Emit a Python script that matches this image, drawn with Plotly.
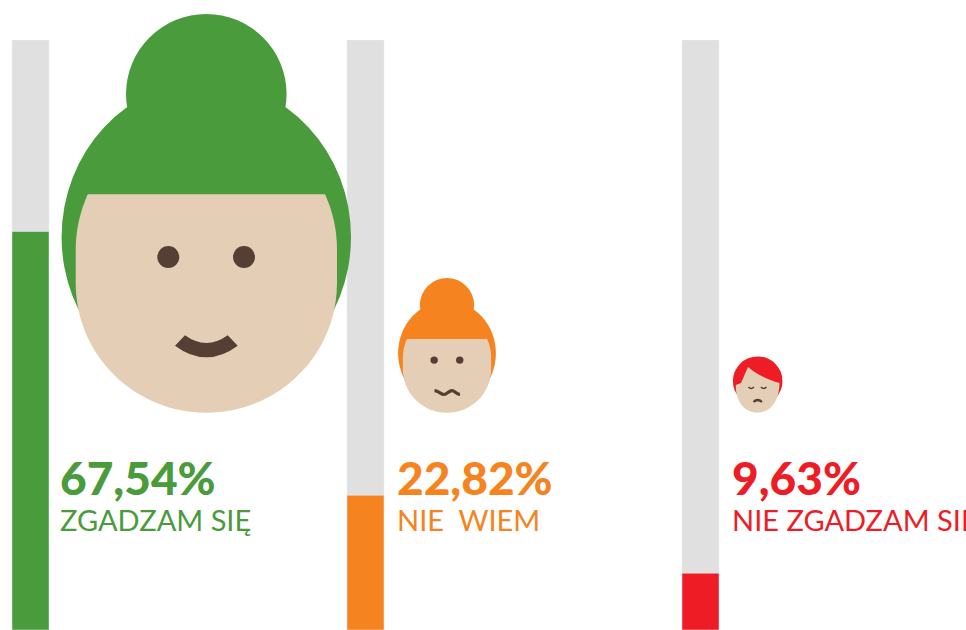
import plotly.graph_objects as go

W, H = 966, 630
categories = ["ZGADZAM SIĘ", "NIE  WIEM", "NIE ZGADZAM SIĘ"]
values = [67.54, 22.82, 9.63]
value_labels = ["67,54%", "22,82%", "9,63%"]
track = [100, 100, 100]
colors = ["#4a9b3c", "#f58420", "#ee1c25"]
GREY, SKIN, DARK = "#e0e0e0", "#e4ceb5", "#553f35"
BOTTOM = 412.7


def P(x, y):
    return f"{x / W:.5f},{1 - y / H:.5f}"


def ell(cx, cy, rx, ry, fill):
    return dict(type="circle", xref="paper", yref="paper", layer="above",
                x0=(cx - rx) / W, x1=(cx + rx) / W,
                y0=1 - (cy + ry) / H, y1=1 - (cy - ry) / H,
                fillcolor=fill, line_width=0)


def path(d, fill=None, line=None, lw=0):
    return dict(type="path", xref="paper", yref="paper", layer="above", path=d,
                fillcolor=fill if fill else "rgba(0,0,0,0)",
                line=dict(color=line if line else "rgba(0,0,0,0)", width=lw))


def bun_face(cx, s, color, mouth):
    X = lambda x: cx + s * (x - 206.3)
    Y = lambda y: BOTTOM - s * (BOTTOM - y)
    pt = lambda x, y: P(X(x), Y(y))
    k = 72
    face = (f"M{pt(87.7,194.3)} L{pt(325,194.3)} C{pt(333,212)} {pt(337,230)} {pt(337,250)} "
            f"L{pt(337,283)} C{pt(337,283+k)} {pt(206.3+k,412.7)} {pt(206.3,412.7)} "
            f"C{pt(206.3-k,412.7)} {pt(75.7,283+k)} {pt(75.7,283)} L{pt(75.7,250)} "
            f"C{pt(75.7,230)} {pt(80,212)} {pt(87.7,194.3)} Z")
    out = [ell(X(206.3), Y(94), 80.3 * s, 80 * s, color),
           ell(X(206.3), Y(237), 144.7 * s, 155 * s, color),
           path(face, SKIN),
           ell(X(168.3), Y(257), 11 * s, 11 * s, DARK),
           ell(X(244), Y(257), 11 * s, 11 * s, DARK)]
    if mouth == "smile":
        out.append(path(f"M{pt(175,345.7)} Q{pt(206.3,369)} {pt(237.7,345.7)} L{pt(227.7,335.3)} "
                        f"Q{pt(206.3,350.7)} {pt(185,335.3)} Z", DARK))
    else:
        out.append(path(f"M{P(434.5,390.6)} C{P(439,391)} {P(441,394.5)} {P(444,394.5)} "
                        f"C{P(447,394.5)} {P(449,390.6)} {P(452,390.6)} "
                        f"C{P(455,390.6)} {P(456,394.5)} {P(460,394.3)}", None, DARK, 3.2))
    return out


red_face = (f"M{P(741,383)} L{P(748,367)} C{P(756,374)} {P(768,380)} {P(779.5,383)} "
            f"C{P(779.5,400)} {P(771,412.7)} {P(757.5,412.7)} "
            f"C{P(745,412.7)} {P(735.5,402)} {P(735.8,385)} L{P(741,383)} Z")

shapes = bun_face(206.3, 1.0, colors[0], "smile") + bun_face(447, values[1] / values[0], colors[1], "wavy")
shapes += [
    ell(757.7, 381, 24.8, 24.5, colors[2]),
    path(red_face, SKIN),
    path(f"M{P(748.5,387)} Q{P(751,390)} {P(754,387)}", None, DARK, 1.5),
    path(f"M{P(761,387)} Q{P(763.5,390)} {P(766.5,387)}", None, DARK, 1.5),
    path(f"M{P(753.5,402)} Q{P(757.5,398)} {P(762,402)}", None, DARK, 2.2),
]

fig = go.Figure()
fig.add_trace(go.Bar(x=categories, y=track, marker_color=GREY, width=37 / 335, hoverinfo="skip"))
fig.add_trace(go.Bar(x=categories, y=values, marker_color=colors, width=37 / 335))

LEFT = [61, 398, 733]
ann = []
for i, c in enumerate(colors):
    ann.append(dict(xref="paper", yref="paper", x=LEFT[i] / W, y=1 - 477 / H, text=value_labels[i],
                    showarrow=False, xanchor="left", yanchor="middle", xshift=-3,
                    font=dict(family="Lato", size=46, color=c, weight=900)))
    ann.append(dict(xref="paper", yref="paper", x=LEFT[i] / W, y=1 - 519 / H, text=categories[i].replace("  ", "&nbsp; "),
                    showarrow=False, xanchor="left", yanchor="middle", xshift=-3,
                    font=dict(family="Lato", size=29, color=c)))

fig.update_layout(
    width=W, height=H, margin=dict(l=0, r=0, t=0, b=0, pad=0),
    paper_bgcolor="white", plot_bgcolor="white", barmode="overlay", showlegend=False,
    shapes=shapes, annotations=ann,
    xaxis=dict(type="category", range=[-30.5 / 335, (W - 30.5) / 335], visible=False, fixedrange=True),
    yaxis=dict(range=[0, 100], domain=[0, 590 / 630], visible=False, fixedrange=True),
)
fig.write_html("out.html", config=dict(displayModeBar=False),
               post_script="document.body.style.margin='0';document.documentElement.style.overflow='hidden';")
